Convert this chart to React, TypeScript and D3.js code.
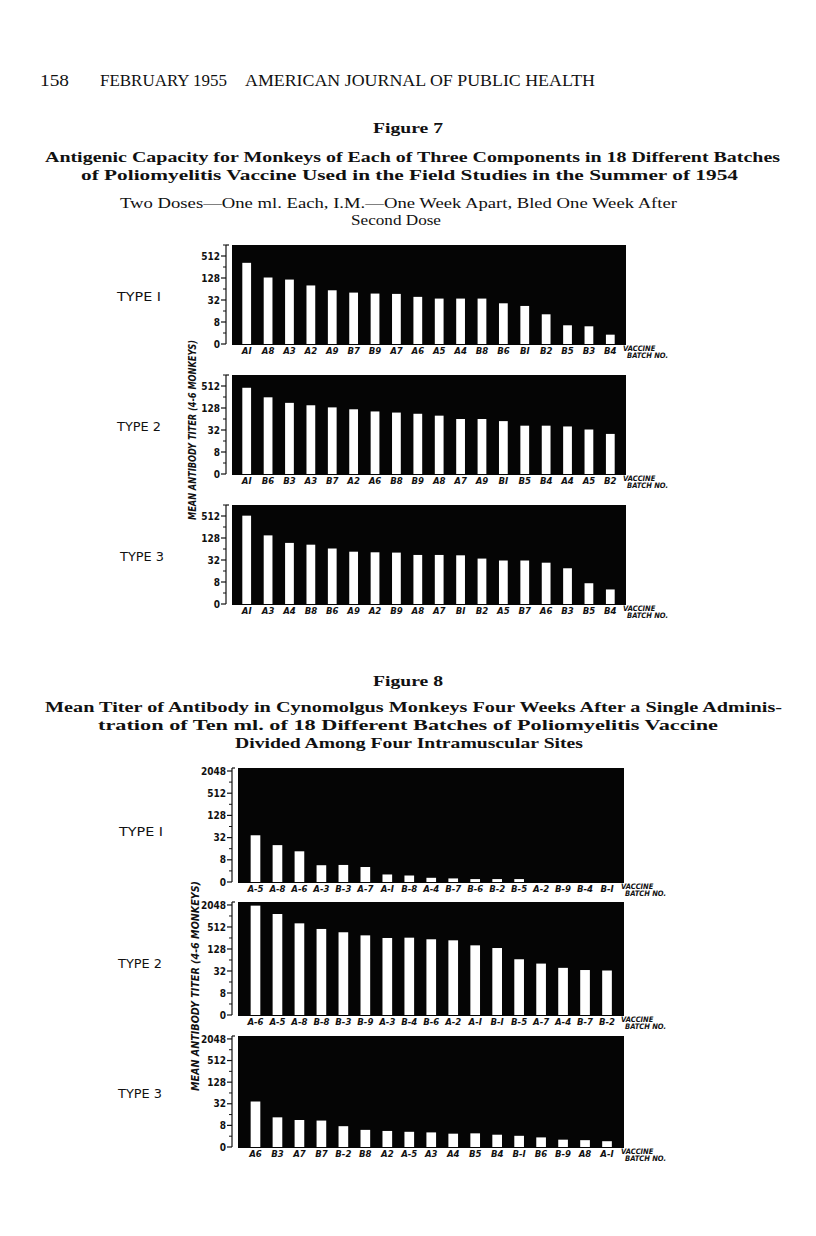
import * as d3 from "d3";

// ---- Figure 7 data (titers; 0 = no titer) ----
const fig7Type1Batches = ["AI", "A8", "A3", "A2", "A9", "B7", "B9", "A7", "A6", "A5", "A4", "B8", "B6", "BI", "B2", "B5", "B3", "B4"];
const fig7Type1Titers = [333, 132, 116, 80, 59, 51, 48, 47, 39, 35, 35, 35, 26, 22, 13, 6.5, 6.1, 3.6];

const fig7Type2Batches = ["AI", "B6", "B3", "A3", "B7", "A2", "A6", "B8", "B9", "A8", "A7", "A9", "BI", "B5", "B4", "A4", "A5", "B2"];
const fig7Type2Titers = [458, 251, 177, 152, 133, 118, 103, 96, 89, 79, 64, 64, 56, 42, 42, 40, 33, 25];

const fig7Type3Batches = ["AI", "A3", "A4", "B8", "B6", "A9", "A2", "B9", "A8", "A7", "BI", "B2", "A5", "B7", "A6", "B3", "B5", "B4"];
const fig7Type3Titers = [523, 151, 94, 84, 66, 54, 52, 51, 44, 44, 43, 35, 31, 31, 27, 19, 7.4, 5.0];

// ---- Figure 8 data ----
const fig8Type1Batches = ["A-5", "A-8", "A-6", "A-3", "B-3", "A-7", "A-I", "B-8", "A-4", "B-7", "B-6", "B-2", "B-5", "A-2", "B-9", "B-4", "B-I"];
const fig8Type1Titers = [37, 20, 13.6, 5.7, 5.8, 5.1, 3.2, 3.0, 2.6, 2.5, 2.4, 2.4, 2.4, 0, 0, 0, 0];

const fig8Type2Batches = ["A-6", "A-5", "A-8", "B-8", "B-3", "B-9", "A-3", "B-4", "B-6", "A-2", "A-I", "B-I", "B-5", "A-7", "A-4", "B-7", "B-2"];
const fig8Type2Titers = [1964, 1160, 644, 452, 367, 302, 256, 261, 236, 221, 161, 136, 67, 51, 39, 34, 33];

const fig8Type3Batches = ["A6", "B3", "A7", "B7", "B-2", "B8", "A2", "A-5", "A3", "A4", "B5", "B4", "B-I", "B6", "B-9", "A8", "A-I"];
const fig8Type3Titers = [37, 13.4, 11.3, 10.9, 7.6, 6.0, 5.6, 5.3, 5.1, 4.7, 4.8, 4.4, 4.1, 3.7, 3.2, 3.1, 2.9];

const fig7TickValues = [2, 8, 32, 128, 512];
const fig7TickLabels = ["0", "8", "32", "128", "512"];
const fig8TickValues = [2, 8, 32, 128, 512, 2048];
const fig8TickLabels = ["0", "8", "32", "128", "512", "2048"];

const SANS = "'DejaVu Sans Condensed', 'DejaVu Sans', sans-serif";
const SERIF = "'Liberation Serif', 'DejaVu Serif', serif";

type PanelProps = {
  batches: string[];
  titers: number[];
  tickValues: number[];
  tickLabels: string[];
  x0: number;
  x1: number;
  top: number;
  base: number;
  maxTiter: number;
  bandLeft: number;
  bandRight: number;
  padding: number;
  typeLabel: string;
  typeX: number;
  typeY: number;
};

const Panel = (p: PanelProps) => {
  const y = d3.scaleLog().base(2).domain([2, p.maxTiter]).range([p.base, p.top]);
  const x = d3
    .scaleBand<string>()
    .domain(p.batches.map((b, i) => i + ""))
    .range([p.bandLeft, p.bandRight])
    .paddingInner(p.padding)
    .paddingOuter(p.padding / 2);

  const axisX = p.x0 - 6;
  // one minor tick between each labelled tick
  const last = p.tickValues[p.tickValues.length - 1];
  const minor = p.tickValues.slice(0, -1).map((v) => v * 2);
  if (p.maxTiter > last * 1.5) minor.push(last * 2);

  return (
    <g>
      <rect x={p.x0} y={p.top} width={p.x1 - p.x0} height={p.base - p.top + 1} fill="#050505" />
      {p.titers.map((t, i) => {
        const v = Math.max(t, 2);
        const yt = y(v);
        if (p.base - yt < 0.5) return null;
        return (
          <rect
            key={i}
            x={x(i + "")}
            y={yt}
            width={x.bandwidth()}
            height={p.base - yt}
            fill="#fff"
          />
        );
      })}
      {/* y axis */}
      <line x1={axisX} x2={axisX} y1={p.top} y2={p.base} stroke="#111" strokeWidth={1.2} />
      <line x1={axisX} x2={axisX + 3} y1={p.top} y2={p.top} stroke="#111" strokeWidth={1.2} />
      {p.tickValues.map((v, i) => (
        <g key={v}>
          <line x1={axisX - 5} x2={axisX} y1={y(v)} y2={y(v)} stroke="#111" strokeWidth={1.2} />
          <text
            x={axisX - 6}
            y={y(v) + 3.6}
            textAnchor="end"
            fontFamily={SANS}
            fontWeight="bold"
            fontSize={10}
            fill="#111"
          >
            {p.tickLabels[i]}
          </text>
        </g>
      ))}
      {minor.map((v) => (
        <line key={"m" + v} x1={axisX - 3} x2={axisX} y1={y(v)} y2={y(v)} stroke="#111" strokeWidth={1} />
      ))}
      {/* batch labels */}
      {p.batches.map((b, i) => (
        <text
          key={"l" + i}
          x={(x(i + "") as number) + x.bandwidth() / 2}
          y={p.base + 10}
          textAnchor="middle"
          fontFamily={SANS}
          fontWeight="bold"
          fontStyle="italic"
          fontSize={9.5}
          fill="#111"
        >
          {b}
        </text>
      ))}
      <text x={p.x1 - 3} y={p.base + 7} fontFamily={SANS} fontWeight="bold" fontStyle="italic" fontSize={7.5} fill="#111">
        VACCINE
      </text>
      <text x={p.x1 + 1} y={p.base + 14} fontFamily={SANS} fontWeight="bold" fontStyle="italic" fontSize={7.5} fill="#111">
        BATCH NO.
      </text>
      <text
        x={p.typeX}
        y={p.typeY + 5}
        fontFamily={SANS}
        fontSize={13}
        fill="#111"
        textLength={44}
        lengthAdjust="spacingAndGlyphs"
      >
        {p.typeLabel}
      </text>
    </g>
  );
};

const fig7Panels = [
  { batches: fig7Type1Batches, titers: fig7Type1Titers, label: "TYPE I", top: 245, base: 344, typeX: 117, typeY: 296 },
  { batches: fig7Type2Batches, titers: fig7Type2Titers, label: "TYPE 2", top: 375, base: 474, typeX: 117, typeY: 426 },
  { batches: fig7Type3Batches, titers: fig7Type3Titers, label: "TYPE 3", top: 505, base: 604, typeX: 120, typeY: 556 },
];

const fig8Panels = [
  { batches: fig8Type1Batches, titers: fig8Type1Titers, label: "TYPE I", top: 768, base: 882, typeX: 119, typeY: 831 },
  { batches: fig8Type2Batches, titers: fig8Type2Titers, label: "TYPE 2", top: 902, base: 1015, typeX: 118, typeY: 963 },
  { batches: fig8Type3Batches, titers: fig8Type3Titers, label: "TYPE 3", top: 1036, base: 1147, typeX: 118, typeY: 1093 },
];

const Line = ({ x, y, w, size, bold, children, anchor }: any) => (
  <text
    x={x}
    y={y}
    fontFamily={SERIF}
    fontSize={size}
    fontWeight={bold ? "bold" : "normal"}
    fill="#111"
    textAnchor={anchor || "start"}
    textLength={w}
    lengthAdjust="spacingAndGlyphs"
  >
    {children}
  </text>
);

export default function App() {
  return (
    <svg
      width={816}
      height={1236}
      viewBox="0 0 816 1236"
      style={{ position: "absolute", left: 0, top: 0, background: "#fff" }}
    >
      <rect width={816} height={1236} fill="#fff" />
      <Line x={40} y={86} w={29} size={16}>158</Line>
      <Line x={100} y={86} w={127} size={16}>FEBRUARY 1955</Line>
      <Line x={245} y={86} w={350} size={16}>AMERICAN JOURNAL OF PUBLIC HEALTH</Line>

      <Line x={408} y={133} w={70} size={15} bold anchor="middle">
        Figure 7
      </Line>
      <Line x={45} y={162} w={735} size={15} bold>
        Antigenic Capacity for Monkeys of Each of Three Components in 18 Different Batches
      </Line>
      <Line x={81} y={180} w={657} size={15} bold>
        of Poliomyelitis Vaccine Used in the Field Studies in the Summer of 1954
      </Line>
      <Line x={120} y={208} w={557} size={15}>
        Two Doses—One ml. Each, I.M.—One Week Apart, Bled One Week After
      </Line>
      <Line x={396} y={225} w={90} size={15} anchor="middle">
        Second Dose
      </Line>

      {fig7Panels.map((pp, i) => (
        <Panel
          key={"f7" + i}
          batches={pp.batches}
          titers={pp.titers}
          tickValues={fig7TickValues}
          tickLabels={fig7TickLabels}
          x0={232}
          x1={626}
          top={pp.top}
          base={pp.base}
          maxTiter={1024}
          bandLeft={236}
          bandRight={621}
          padding={0.59}
          typeLabel={pp.label}
          typeX={pp.typeX}
          typeY={pp.typeY}
        />
      ))}
      <text
        transform="translate(196,430) rotate(-90)"
        textAnchor="middle"
        fontFamily={SANS}
        fontWeight="bold"
        fontStyle="italic"
        fontSize={10}
        fill="#111"
        textLength={180}
        lengthAdjust="spacingAndGlyphs"
      >
        MEAN ANTIBODY TITER (4-6 MONKEYS)
      </text>

      <Line x={408} y={686} w={70} size={15} bold anchor="middle">
        Figure 8
      </Line>
      <Line x={45} y={712} w={737} size={15} bold>
        Mean Titer of Antibody in Cynomolgus Monkeys Four Weeks After a Single Adminis-
      </Line>
      <Line x={98} y={730} w={620} size={15} bold>
        tration of Ten ml. of 18 Different Batches of Poliomyelitis Vaccine
      </Line>
      <Line x={235} y={748} w={348} size={15} bold>
        Divided Among Four Intramuscular Sites
      </Line>

      {fig8Panels.map((pp, i) => (
        <Panel
          key={"f8" + i}
          batches={pp.batches}
          titers={pp.titers}
          tickValues={fig8TickValues}
          tickLabels={fig8TickLabels}
          x0={238}
          x1={624}
          top={pp.top}
          base={pp.base}
          maxTiter={2470}
          bandLeft={244.5}
          bandRight={618}
          padding={0.56}
          typeLabel={pp.label}
          typeX={pp.typeX}
          typeY={pp.typeY}
        />
      ))}
      <text
        transform="translate(199,986) rotate(-90)"
        textAnchor="middle"
        fontFamily={SANS}
        fontWeight="bold"
        fontStyle="italic"
        fontSize={10}
        fill="#111"
        textLength={210}
        lengthAdjust="spacingAndGlyphs"
      >
        MEAN ANTIBODY TITER (4-6 MONKEYS)
      </text>
    </svg>
  );
}
